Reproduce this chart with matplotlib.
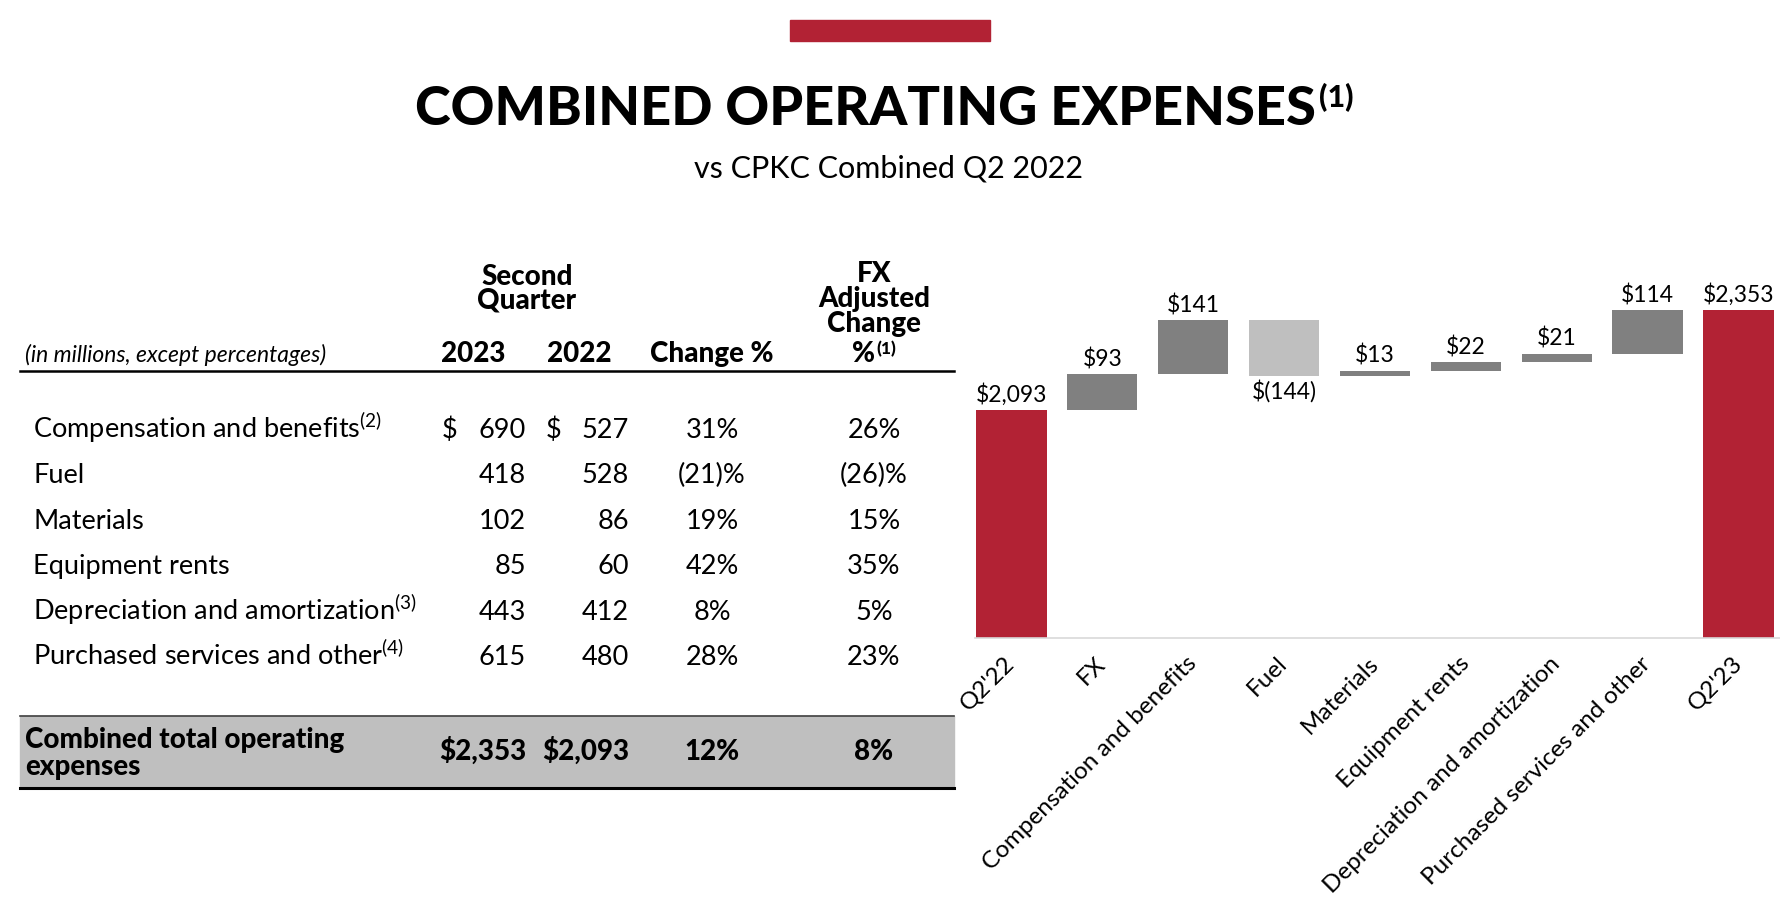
import matplotlib
matplotlib.use('Agg')
import matplotlib.pyplot as plt
from matplotlib.patches import Rectangle

plt.rcParams['font.family'] = ['Lato', 'DejaVu Sans']
plt.rcParams['mathtext.fontset'] = 'custom'
plt.rcParams['mathtext.rm'] = 'Lato'
plt.rcParams['mathtext.it'] = 'Lato:italic'
plt.rcParams['mathtext.bf'] = 'Lato:black'

RED = '#b22234'
DARK = '#808080'
LIGHT = '#bfbfbf'

# table data
rows = ['Compensation and benefits', 'Fuel', 'Materials', 'Equipment rents',
        'Depreciation and amortization', 'Purchased services and other']
notes = ['2', '', '', '', '3', '4']
q2_2023 = [690, 418, 102, 85, 443, 615]
q2_2022 = [527, 528, 86, 60, 412, 480]
change_pct = [31, -21, 19, 42, 8, 28]
fx_change_pct = [26, -26, 15, 35, 5, 23]
total_2023 = 2353
total_2022 = 2093
total_change = 12
total_fx_change = 8

# waterfall data
steps = ["Q2'22", 'FX', 'Compensation and benefits', 'Fuel', 'Materials',
         'Equipment rents', 'Depreciation and amortization',
         'Purchased services and other', "Q2'23"]
start_value = 2093
deltas = [93, 141, -144, 13, 22, 21, 114]
end_value = 2353

W, H = 1780, 918
fig = plt.figure(figsize=(W / 100, H / 100), dpi=100)


def fx(x):
    return x / W


def fy(y):
    return 1 - y / H


def pct(v):
    return f'({-v})%' if v < 0 else f'{v}%'


FS = 19.5     # table body
FSB = 20      # table headers / total row (heavy)

# header
fig.patches.append(Rectangle((fx(790), fy(41)), fx(200), 21 / H, color=RED,
                             transform=fig.transFigure))
title = fig.text(fx(865), fy(125), 'COMBINED OPERATING EXPENSES', ha='center',
                 va='baseline', fontsize=39, fontweight='black')
fig.canvas.draw()
bb = title.get_window_extent()
fig.text(bb.x1 / W + 0.002, fy(107), '(1)', ha='left', va='baseline',
         fontsize=22, fontweight='black')
fig.text(fx(889), fy(178), 'vs CPKC Combined Q2 2022', ha='center',
         va='baseline', fontsize=22)

# table
col_23, col_22, col_chg, col_fx = 526, 629, 712, 874
fig.text(fx(527), fy(285), 'Second', ha='center', va='baseline', fontsize=FSB,
         fontweight='black')
fig.text(fx(527), fy(309), 'Quarter', ha='center', va='baseline', fontsize=FSB,
         fontweight='black')
for i, s in enumerate(['FX', 'Adjusted', 'Change']):
    fig.text(fx(col_fx), fy(282 + 25 * i), s, ha='center', va='baseline',
             fontsize=FSB, fontweight='black')
fig.text(fx(col_fx + 1), fy(362), '%', ha='right', va='baseline',
         fontsize=FSB, fontweight='black')
fig.text(fx(col_fx + 2), fy(354), '(1)', ha='left', va='baseline',
         fontsize=12.5, fontweight='black')
fig.text(fx(25), fy(362), '(in millions, except percentages)', ha='left',
         va='baseline', fontsize=16.5, style='italic')
fig.text(fx(473), fy(362), '2023', ha='center', va='baseline', fontsize=FSB,
         fontweight='black')
fig.text(fx(579), fy(362), '2022', ha='center', va='baseline', fontsize=FSB,
         fontweight='black')
fig.text(fx(col_chg), fy(362), 'Change %', ha='center', va='baseline',
         fontsize=FSB, fontweight='black')
fig.add_artist(plt.Line2D([fx(20), fx(954)], [fy(371), fy(371)], color='black',
                          lw=1.8))

for i, name in enumerate(rows):
    yb = fy(438 + i * 45.4)
    label = name if not notes[i] else name + r'$^{\mathrm{(' + notes[i] + ')}}$'
    fig.text(fx(33), yb, label, ha='left', va='baseline', fontsize=FS)
    if i == 0:
        fig.text(fx(442), yb, '$', ha='left', va='baseline', fontsize=FS)
        fig.text(fx(546), yb, '$', ha='left', va='baseline', fontsize=FS)
    fig.text(fx(col_23), yb, f'{q2_2023[i]:,}', ha='right', va='baseline',
             fontsize=FS)
    fig.text(fx(col_22), yb, f'{q2_2022[i]:,}', ha='right', va='baseline',
             fontsize=FS)
    fig.text(fx(col_chg), yb, pct(change_pct[i]), ha='center', va='baseline',
             fontsize=FS)
    fig.text(fx(col_fx), yb, pct(fx_change_pct[i]), ha='center', va='baseline',
             fontsize=FS)

fig.patches.append(Rectangle((fx(20), fy(788)), fx(934), 72 / H, color=LIGHT,
                             transform=fig.transFigure, zorder=0))
fig.add_artist(plt.Line2D([fx(20), fx(954)], [fy(716), fy(716)], color='#404040',
                          lw=1.2))
fig.add_artist(plt.Line2D([fx(20), fx(954)], [fy(788), fy(788)], color='black',
                          lw=2.2))
fig.text(fx(25), fy(748), 'Combined total operating', ha='left', va='baseline',
         fontsize=FSB, fontweight='black')
fig.text(fx(25), fy(775), 'expenses', ha='left', va='baseline', fontsize=FSB,
         fontweight='black')
fig.text(fx(col_23), fy(760), f'${total_2023:,}', ha='right', va='baseline',
         fontsize=FSB, fontweight='black')
fig.text(fx(col_22), fy(760), f'${total_2022:,}', ha='right', va='baseline',
         fontsize=FSB, fontweight='black')
fig.text(fx(col_chg), fy(760), pct(total_change), ha='center', va='baseline',
         fontsize=FSB, fontweight='black')
fig.text(fx(col_fx), fy(760), pct(total_fx_change), ha='center', va='baseline',
         fontsize=FSB, fontweight='black')

# waterfall
ax = fig.add_axes([fx(975), fy(638), fx(1779.5 - 975), (638 - 250) / H])
bottoms, heights, colors = [1500], [start_value - 1500], [RED]
level = start_value
for d in deltas:
    lo = level if d > 0 else level + d
    bottoms.append(lo)
    heights.append(abs(d))
    colors.append(DARK if d > 0 else LIGHT)
    level += d
bottoms.append(1500)
heights.append(end_value - 1500)
colors.append(RED)

x = list(range(len(steps)))
ax.bar(x, heights, bottom=bottoms, width=0.775, color=colors)

labels = [f'${start_value:,}'] + \
    [f'${d}' if d > 0 else f'$({-d})' for d in deltas] + [f'${end_value:,}']
for i in x:
    top = bottoms[i] + heights[i]
    if i in (0, len(steps) - 1) or deltas[i - 1] > 0:
        ax.annotate(labels[i], (i, top), xytext=(0, 3), textcoords='offset points',
                    ha='center', va='bottom', fontsize=16.5)
    else:
        ax.annotate(labels[i], (i, bottoms[i]), xytext=(0, -3),
                    textcoords='offset points', ha='center', va='top',
                    fontsize=16.5)

ax.set_xlim(-0.4, 8.45)
ax.set_ylim(1500, 2510)
ax.set_xticks(x)
ax.set_xticklabels(steps, rotation=45, ha='right', va='center',
                   rotation_mode='anchor', fontsize=17.5)
ax.tick_params(axis='x', length=0, pad=16)
ax.set_yticks([])
for s in ['left', 'right', 'top']:
    ax.spines[s].set_visible(False)
ax.spines['bottom'].set_color('#d9d9d9')
ax.spines['bottom'].set_linewidth(1.2)

fig.savefig('out.png', dpi=100)
